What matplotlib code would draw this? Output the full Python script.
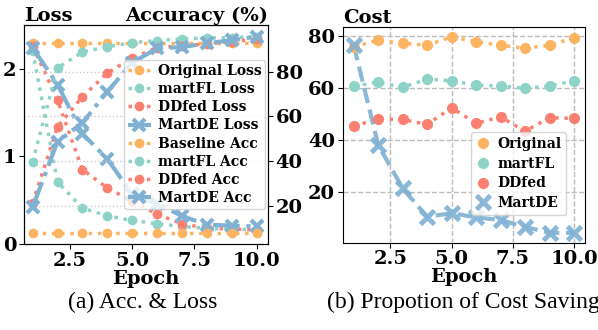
import matplotlib
matplotlib.use('Agg')
import matplotlib.pyplot as plt

plt.rcParams['font.family'] = 'DejaVu Serif'
plt.rcParams['font.weight'] = 'bold'
plt.rcParams['axes.labelweight'] = 'bold'
plt.rcParams['axes.titleweight'] = 'bold'

epochs = [1, 2, 3, 4, 5, 6, 7, 8, 9, 10]

# left panel: loss
original_loss = [2.29, 2.29, 2.29, 2.29, 2.29, 2.29, 2.29, 2.29, 2.29, 2.29]
martfl_loss = [2.20, 0.71, 0.41, 0.32, 0.27, 0.23, 0.20, 0.18, 0.17, 0.16]
ddfed_loss = [2.26, 1.64, 0.85, 0.64, 0.49, 0.34, 0.23, 0.18, 0.17, 0.16]
martde_loss = [2.24, 1.82, 1.26, 0.97, 0.57, 0.46, 0.32, 0.22, 0.21, 0.20]

# left panel: accuracy (%)
baseline_acc = [7.8, 7.8, 7.8, 7.8, 7.8, 7.8, 7.8, 7.8, 7.8, 7.8]
martfl_acc = [39.7, 81.7, 88.8, 91.2, 93.0, 93.9, 94.7, 95.1, 95.2, 95.7]
ddfed_acc = [21.3, 55.4, 68.8, 79.4, 86.1, 90.8, 91.5, 92.5, 93.5, 94.5]
martde_acc = [19.4, 48.7, 57.1, 71.1, 84.0, 90.5, 91.0, 92.7, 94.1, 95.7]

# right panel: proportion of cost saving
cost_original = [75.8, 78.3, 77.1, 76.4, 79.6, 77.7, 76.4, 75.2, 76.4, 79.2]
cost_martfl = [60.7, 62.1, 60.2, 63.3, 62.7, 61.0, 60.7, 59.8, 60.7, 62.7]
cost_ddfed = [45.3, 48.0, 47.8, 45.9, 52.3, 46.3, 48.8, 43.3, 48.5, 48.2]
cost_martde = [76.4, 38.0, 21.3, 10.4, 11.7, 10.2, 9.1, 6.5, 4.2, 4.2]

orange = '#fdb462'
teal = '#8dd3c7'
red = '#fb8072'
blue = '#80b1d3'

fig = plt.figure(figsize=(5.98, 3.30), dpi=100)
ax = fig.add_axes([0.040, 1 - 244 / 330, 0.408, 219 / 330])
ax2 = ax.twinx()

dot = dict(linestyle=':', linewidth=2.5, marker='o', markersize=6)
ax.plot(epochs, original_loss, color=orange, label='Original Loss', **dot)
ax.plot(epochs, martfl_loss, color=teal, label='martFL Loss', **dot)
ax.plot(epochs, ddfed_loss, color=red, label='DDfed Loss', **dot)
ax.plot(epochs, martde_loss, color=blue, linestyle='-.', linewidth=3, marker='x',
        markersize=9, markeredgewidth=3, label='MartDE Loss')

ax2.plot(epochs, baseline_acc, color=orange, label='Baseline Acc', **dot)
ax2.plot(epochs, martfl_acc, color=teal, label='martFL Acc', **dot)
ax2.plot(epochs, ddfed_acc, color=red, label='DDfed Acc', **dot)
ax2.plot(epochs, martde_acc, color=blue, linestyle='-.', linewidth=3, marker='x',
         markersize=9, markeredgewidth=3, label='MartDE Acc')

ax.set_xlim(0.65, 10.45)
ax.set_ylim(0, 2.5)
ax.set_yticks([0, 1, 2])
ax2.set_ylim(2.9, 100.9)
ax2.set_yticks([20, 40, 60, 80])
ax2.grid(axis='y', linestyle=':', color='#cccccc', linewidth=1)
ax.set_xticks([2.5, 5.0, 7.5, 10.0])
ax.tick_params(labelsize=14, pad=2)
ax2.tick_params(labelsize=14, pad=2)
ax.set_xlabel('Epoch', fontsize=14, labelpad=0)
ax.set_title('Loss', loc='left', fontsize=14, pad=2)
ax.set_title('Accuracy (%)', loc='right', fontsize=14, pad=2)

h1, l1 = ax.get_legend_handles_labels()
h2, l2 = ax2.get_legend_handles_labels()
ax2.legend(h1 + h2, l1 + l2, loc='center right', bbox_to_anchor=(0.99, 0.5),
           borderaxespad=0, fontsize=10, handlelength=1.6, handletextpad=0.5,
           labelspacing=0.3, borderpad=0.3)

# right panel
bx = fig.add_axes([342.7 / 598, 1 - 242.7 / 330, 242.3 / 598, 216 / 330])
bx.plot(epochs, cost_original, color=orange, linestyle=':', linewidth=2.5)
bx.plot(epochs, cost_martfl, color=teal, linestyle=':', linewidth=2.5)
bx.plot(epochs, cost_ddfed, color=red, linestyle=':', linewidth=2.5)
bx.plot(epochs, cost_martde, color=blue, linestyle='--', linewidth=3, alpha=0.9)
bx.plot(epochs, cost_original, color=orange, linestyle='none', marker='o', markersize=7, label='Original')
bx.plot(epochs, cost_martfl, color=teal, linestyle='none', marker='o', markersize=7, label='martFL')
bx.plot(epochs, cost_ddfed, color=red, linestyle='none', marker='o', markersize=7, label='DDfed')
bx.plot(epochs, cost_martde, color=blue, linestyle='none', marker='x', markersize=10,
        markeredgewidth=3.5, alpha=0.9, label='MartDE')
bx.set_ylim(0.4, 83.5)
bx.set_yticks([20, 40, 60, 80])
bx.set_xticks([2.5, 5.0, 7.5, 10.0])
bx.grid(linestyle='--', color='#bbbbbb', linewidth=1)
bx.tick_params(labelsize=14, pad=2)
bx.set_xlabel('Epoch', fontsize=14, labelpad=0)
bx.set_title('Cost', loc='left', fontsize=14, pad=2)
bx.legend(loc='lower right', bbox_to_anchor=(0.922, 0.129), borderaxespad=0,
          fontsize=10, handlelength=1.0, handletextpad=0.5, labelspacing=0.4,
          borderpad=0.35)

fig.text(142.5 / 598, 1 - 302 / 330, '(a) Acc. & Loss', ha='center', va='center',
         fontsize=17, fontweight='normal', family='Liberation Serif')
fig.text(327 / 598, 1 - 302 / 330, '(b) Propotion of Cost Saving', ha='left', va='center',
         fontsize=17, fontweight='normal', family='Liberation Serif')

fig.savefig('out.png', dpi=100)
